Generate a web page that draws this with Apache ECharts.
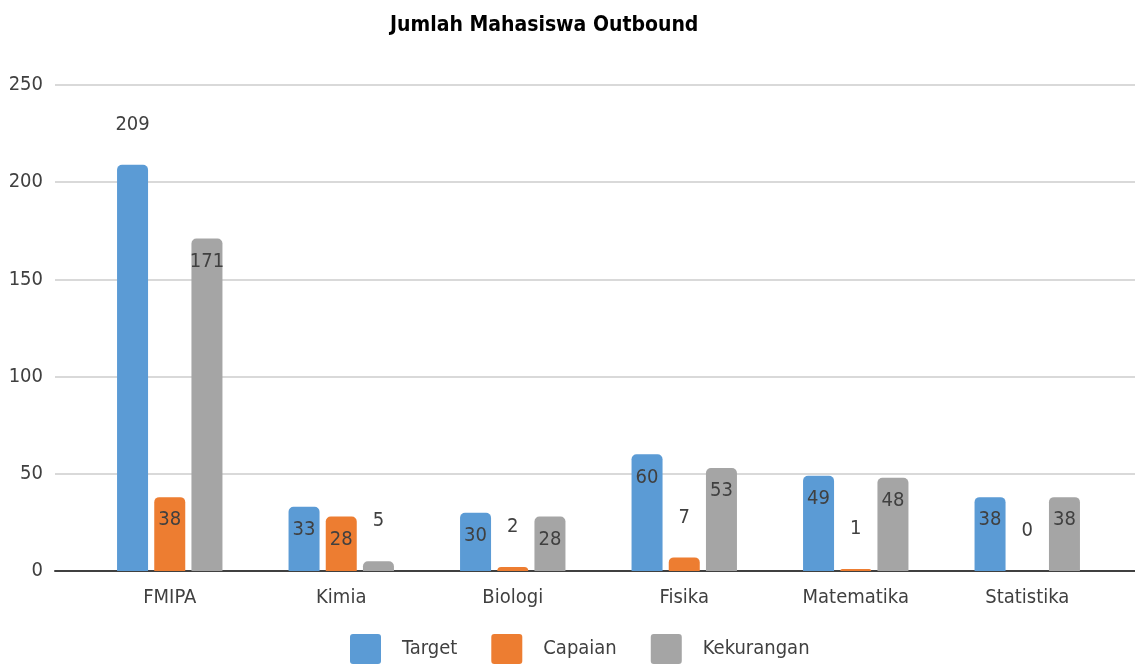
<!DOCTYPE html>
<html>
<head>
<meta charset="utf-8">
<script src="https://cdn.jsdelivr.net/npm/echarts@6/dist/echarts.min.js"></script>
<style>
  html, body { margin: 0; padding: 0; background: #fff; }
  #chart { width: 1135px; height: 666px; }
</style>
</head>
<body>
<div id="chart"></div>
<script>
const categories = ["FMIPA", "Kimia", "Biologi", "Fisika", "Matematika", "Statistika"];
const target = [209, 33, 30, 60, 49, 38];
const capaian = [38, 28, 2, 7, 1, 0];
const kekurangan = [171, 5, 28, 53, 48, 38];
const yTicks = [0, 50, 100, 150, 200, 250];

const FONT = "'DejaVu Sans Condensed', 'Liberation Sans Narrow', sans-serif";
const TXT = "#404040";

// small or top values sit above the bar, the rest inside
function withLabels(values) {
  const max = Math.max(...target);
  return values.map(v => {
    const outside = v < 10 || v === max;
    return {
      value: v,
      label: outside
        ? { position: "top", distance: 30 }
        : { position: "insideTop", distance: 13 }
    };
  });
}

function barSeries(name, values, color) {
  return {
    name: name,
    type: "bar",
    xAxisIndex: 1,
    yAxisIndex: 1,
    barWidth: 31,
    barGap: "20%",
    itemStyle: { color: color, borderRadius: [5, 5, 0, 0] },
    label: { show: true, color: TXT, fontSize: 20, fontFamily: FONT },
    data: withLabels(values)
  };
}

const chart = echarts.init(document.getElementById("chart"));
chart.setOption({
  animation: false,
  title: {
    text: "Jumlah Mahasiswa Outbound",
    left: 385,
    top: 10,
    textStyle: { fontFamily: FONT, fontSize: 21, fontWeight: "bold", color: "#000" }
  },
  legend: {
    top: 629,
    left: 345,
    itemWidth: 31,
    itemHeight: 30,
    itemGap: 34,
    icon: "path://M3,0 L28,0 Q31,0 31,3 L31,27 Q31,30 28,30 L3,30 Q0,30 0,27 L0,3 Q0,0 3,0 Z",
    textStyle: { fontFamily: FONT, fontSize: 20, color: TXT, padding: [0, 0, 0, 16] },
    data: ["Target", "Capaian", "Kekurangan"]
  },
  grid: [
    { left: 55, right: 0, top: 85, bottom: 95 },
    { left: 84, right: 22, top: 85, bottom: 95 }
  ],
  xAxis: [
    {
      gridIndex: 0, type: "category", data: [""],
      axisLine: { lineStyle: { color: "#404040", width: 2 } },
      axisTick: { show: false }, axisLabel: { show: false }
    },
    {
      gridIndex: 1, type: "category", data: categories,
      axisLine: { show: false }, axisTick: { show: false },
      axisLabel: { color: TXT, fontFamily: FONT, fontSize: 20, margin: 17 }
    }
  ],
  yAxis: [
    {
      gridIndex: 0, type: "value", min: 0, max: 250, interval: 50,
      axisLine: { show: false }, axisTick: { show: false },
      axisLabel: {
        color: TXT, fontFamily: FONT, fontSize: 20, margin: 12,
        formatter: v => (yTicks.includes(v) ? String(v) : "")
      },
      splitLine: { lineStyle: { color: "#d9d9d9", width: 2 } }
    },
    {
      gridIndex: 1, type: "value", min: 0, max: 250, interval: 50,
      axisLine: { show: false }, axisTick: { show: false },
      axisLabel: { show: false }, splitLine: { show: false }
    }
  ],
  series: [
    barSeries("Target", target, "#5B9BD5"),
    barSeries("Capaian", capaian, "#ED7D31"),
    barSeries("Kekurangan", kekurangan, "#A5A5A5")
  ]
});
</script>
</body>
</html>
